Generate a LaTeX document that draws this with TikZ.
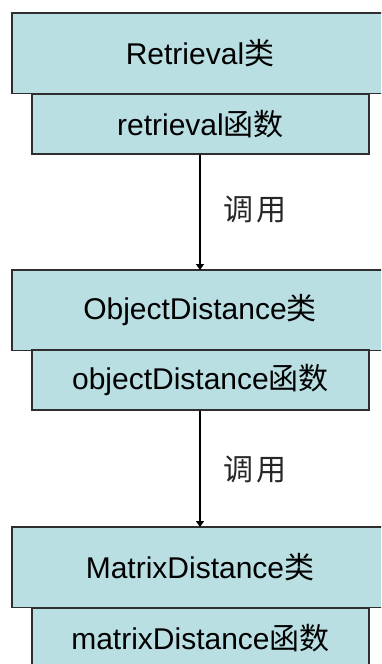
\documentclass[tikz,border=0pt]{standalone}
\usepackage{fontspec}
\setmainfont{Liberation Sans}
\newfontfamily\cjk{Noto Sans CJK SC}
\usetikzlibrary{arrows.meta}
\definecolor{boxfill}{HTML}{B9DFE3}
\definecolor{boxline}{HTML}{2E2E2E}
\tikzset{
  classbox/.style={fill=boxfill, anchor=north,
    minimum width=376pt, minimum height=80pt, inner sep=0pt,
    font=\fontsize{30}{32}\selectfont},
  classedge/.style={draw=boxline, line width=1.5pt},
  funcbox/.style={draw=boxline, line width=1.5pt, fill=boxfill, anchor=north,
    minimum width=337pt, minimum height=60pt, inner sep=0pt,
    font=\fontsize{30}{32}\selectfont},
  callarrow/.style={draw=black, line width=1.3pt, -{Triangle[width=8pt,length=6pt]}},
  calllabel/.style={font=\fontsize{30}{32}\selectfont\cjk, text=black!85}
}
\begin{document}
\begin{tikzpicture}[x=1pt,y=1pt]
\useasboundingbox (0,0) rectangle (381,-664);
\clip (0,0) rectangle (381,-664);
\fill[white] (0,0) rectangle (381,-664);
% first group
\node[classbox] (c1) at (200,-13) {Retrieval{\cjk 类}};
\draw[classedge] ([xshift=30pt]c1.north east) -- (c1.north west) -- (c1.south west) -- ([xshift=30pt]c1.south east);
\node[funcbox] (f1) at (200.5,-93) {retrieval{\cjk 函数}};
% second group
\node[classbox] (c2) at (200,-270) {ObjectDistance{\cjk 类}};
\draw[classedge] ([xshift=30pt]c2.north east) -- (c2.north west) -- (c2.south west) -- ([xshift=30pt]c2.south east);
\node[funcbox] (f2) at (200.5,-349) {objectDistance{\cjk 函数}};
% third group
\node[classbox] (c3) at (200,-527) {MatrixDistance{\cjk 类}};
\draw[classedge] ([xshift=30pt]c3.north east) -- (c3.north west) -- (c3.south west) -- ([xshift=30pt]c3.south east);
\node[funcbox] (f3) at (200.5,-607) {matrixDistance{\cjk 函数}};
% arrows
\draw[callarrow] (f1.south -| 200,0) -- (c2.north -| 200,0);
\draw[callarrow] (f2.south -| 200,0) -- (c3.north -| 200,0);
% labels
\node[calllabel] (l1) at (255,-210) {调\hspace{4pt}用};
\node[calllabel] (l2) at (255,-469) {调\hspace{4pt}用};
\end{tikzpicture}
\end{document}
